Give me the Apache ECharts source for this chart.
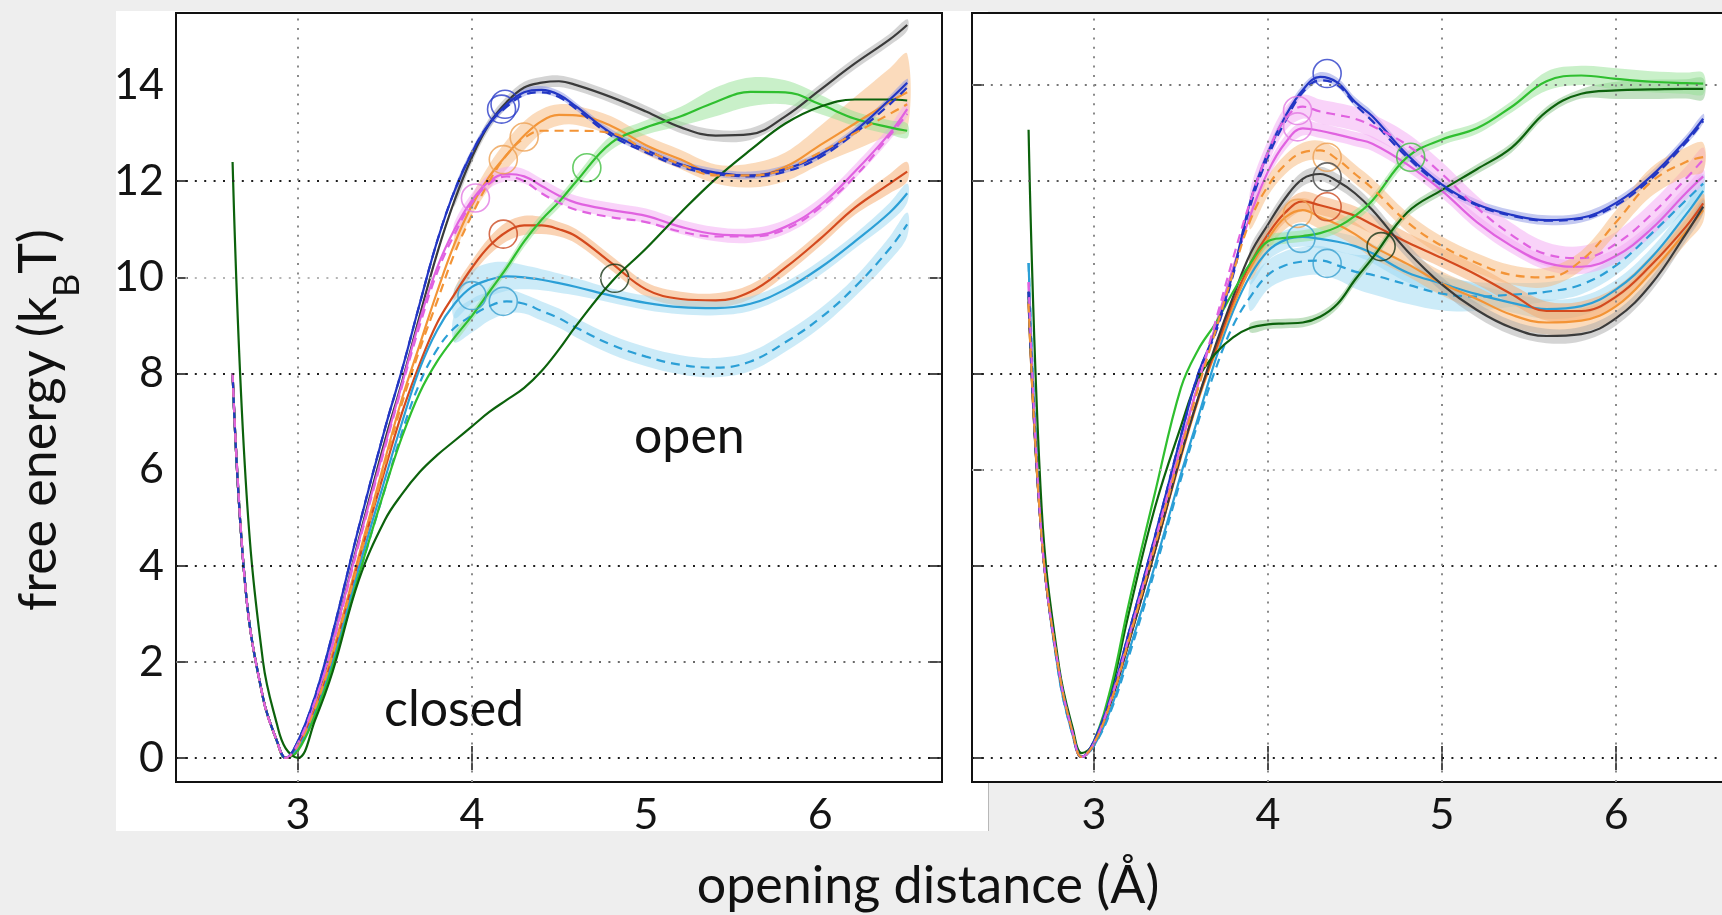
<!DOCTYPE html>
<html>
<head>
<meta charset="utf-8">
<title>free energy vs opening distance</title>
<script src="https://cdn.jsdelivr.net/npm/echarts@6.0.0/dist/echarts.min.js"></script>
<style>
  html, body { margin: 0; padding: 0; background: #eeeeee; }
  #chart { width: 1722px; height: 915px; }
</style>
</head>
<body>
<div id="chart"></div>
<script>
// ---- sampled opening distances (Å) shared by every profile ----
const distanceGrid = [2.625, 2.7, 2.8, 2.88, 2.93, 3.0, 3.1, 3.2, 3.35, 3.5, 3.6, 3.7, 3.8, 3.9, 4.0, 4.1, 4.2, 4.3, 4.4, 4.5, 4.6, 4.8, 5.0, 5.2, 5.4, 5.6, 5.8, 6.0, 6.2, 6.4, 6.5];

// ---- left panel free-energy profiles (kBT) ----
const leftBlue          = [8.0, 3.5, 1.25, 0.35, 0.0, 0.35, 1.3, 2.6, 4.8, 6.85, 8.1, 9.45, 10.75, 11.8, 12.6, 13.2, 13.6, 13.85, 13.9, 13.8, 13.55, 13.0, 12.65, 12.35, 12.18, 12.12, 12.25, 12.55, 13.05, 13.7, 14.05];
const leftBlueDashed    = [8.0, 3.5, 1.25, 0.35, 0.0, 0.35, 1.3, 2.6, 4.8, 6.85, 8.1, 9.45, 10.75, 11.8, 12.6, 13.2, 13.55, 13.8, 13.85, 13.75, 13.5, 12.95, 12.6, 12.3, 12.15, 12.1, 12.2, 12.5, 13.0, 13.6, 13.95];
const leftGray          = [8.0, 3.5, 1.25, 0.35, 0.0, 0.3, 1.15, 2.4, 4.55, 6.6, 7.85, 9.2, 10.5, 11.6, 12.5, 13.2, 13.65, 13.95, 14.05, 14.08, 14.0, 13.75, 13.45, 13.12, 12.95, 12.98, 13.35, 13.9, 14.45, 14.95, 15.25];
const leftOrange        = [8.0, 3.5, 1.25, 0.35, 0.0, 0.25, 1.05, 2.2, 4.2, 6.2, 7.5, 8.6, 9.7, 10.7, 11.5, 12.1, 12.55, 12.95, 13.25, 13.38, 13.37, 13.15, 12.75, 12.45, 12.15, 12.12, 12.3, 12.75, 13.2, 13.65, 13.85];
const leftOrangeDashed  = [8.0, 3.5, 1.25, 0.35, 0.0, 0.25, 1.05, 2.15, 4.1, 6.1, 7.4, 8.5, 9.5, 10.5, 11.3, 12.0, 12.55, 12.9, 13.05, 13.05, 13.05, 13.0, 12.65, 12.35, 12.12, 12.12, 12.25, 12.6, 13.0, 13.4, 13.6];
const leftMagenta       = [8.0, 3.5, 1.25, 0.35, 0.0, 0.3, 1.2, 2.4, 4.5, 6.5, 7.8, 9.1, 10.2, 11.0, 11.6, 12.0, 12.15, 12.1, 11.9, 11.7, 11.55, 11.4, 11.28, 11.05, 10.9, 10.87, 11.05, 11.5, 12.2, 13.0, 13.5];
const leftMagentaDashed = [8.0, 3.5, 1.25, 0.35, 0.0, 0.3, 1.2, 2.35, 4.45, 6.45, 7.75, 9.0, 10.1, 10.9, 11.55, 11.95, 12.1, 12.0, 11.75, 11.55, 11.4, 11.25, 11.15, 10.95, 10.85, 10.85, 11.0, 11.45, 12.1, 12.95, 13.4];
const leftRed           = [8.0, 3.5, 1.25, 0.35, 0.0, 0.25, 1.0, 2.1, 4.1, 6.0, 7.2, 8.2, 9.05, 9.65, 10.2, 10.65, 10.95, 11.08, 11.08, 11.0, 10.85, 10.3, 9.75, 9.55, 9.52, 9.7, 10.2, 10.8, 11.45, 11.95, 12.2];
const leftSky           = [8.0, 3.5, 1.25, 0.35, 0.0, 0.2, 0.95, 2.0, 3.95, 5.8, 7.0, 8.1, 8.9, 9.45, 9.8, 9.95, 10.02, 10.0, 9.95, 9.88, 9.8, 9.62, 9.47, 9.38, 9.36, 9.45, 9.75, 10.2, 10.75, 11.35, 11.75];
const leftSkyDashed     = [8.0, 3.5, 1.25, 0.35, 0.0, 0.2, 0.9, 1.9, 3.8, 5.6, 6.8, 7.8, 8.5, 8.95, 9.2, 9.4, 9.5, 9.45, 9.3, 9.15, 8.95, 8.6, 8.35, 8.18, 8.12, 8.25, 8.65, 9.15, 9.8, 10.6, 11.1];
const leftGreen         = [8.0, 3.5, 1.25, 0.35, 0.0, 0.15, 0.9, 1.9, 3.8, 5.6, 6.7, 7.6, 8.25, 8.75, 9.2, 9.7, 10.2, 10.75, 11.2, 11.57, 12.0, 12.8, 13.12, 13.35, 13.65, 13.86, 13.85, 13.6, 13.3, 13.12, 13.05];
const leftDarkGreen     = [12.4, 5.8, 2.0, 0.7, 0.2, 0.0, 0.8, 1.8, 3.7, 4.95, 5.5, 5.95, 6.3, 6.6, 6.9, 7.2, 7.45, 7.7, 8.05, 8.5, 9.0, 9.9, 10.6, 11.35, 12.05, 12.65, 13.2, 13.55, 13.7, 13.7, 13.68];

// ---- right panel free-energy profiles (kBT) ----
const rightBlue          = [9.7, 4.6, 1.8, 0.5, 0.02, 0.35, 1.3, 2.6, 4.6, 6.7, 8.0, 8.9, 10.1, 11.6, 12.6, 13.35, 13.9, 14.17, 14.05, 13.65, 13.35, 12.55, 11.93, 11.52, 11.3, 11.19, 11.24, 11.55, 12.1, 12.85, 13.3];
const rightBlueDashed    = [9.7, 4.6, 1.8, 0.5, 0.02, 0.35, 1.3, 2.6, 4.6, 6.7, 8.0, 8.85, 10.05, 11.5, 12.5, 13.25, 13.85, 14.1, 14.0, 13.6, 13.25, 12.5, 11.9, 11.5, 11.28, 11.18, 11.22, 11.5, 12.05, 12.8, 13.25];
const rightMagenta       = [9.9, 4.6, 1.8, 0.5, 0.02, 0.3, 1.25, 2.5, 4.5, 6.5, 7.8, 9.0, 10.2, 11.3, 12.2, 12.8, 13.1, 13.05, 12.97, 12.88, 12.78, 12.35, 11.8, 11.15, 10.65, 10.3, 10.22, 10.45, 11.0, 11.75, 12.1];
const rightMagentaDashed = [9.9, 4.6, 1.8, 0.5, 0.02, 0.3, 1.25, 2.5, 4.5, 6.5, 7.8, 9.1, 10.4, 11.6, 12.6, 13.3, 13.55, 13.45, 13.38, 13.3, 13.15, 12.75, 12.15, 11.45, 10.88, 10.48, 10.4, 10.7, 11.3, 12.05, 12.45];
const rightOrangeDashed  = [9.45, 4.6, 1.8, 0.5, 0.02, 0.3, 1.2, 2.45, 4.4, 6.4, 7.7, 8.9, 10.1, 11.2, 11.9, 12.35, 12.6, 12.64, 12.45, 12.15, 11.85, 11.15, 10.65, 10.3, 10.05, 10.0, 10.35, 11.15, 11.98, 12.4, 12.5];
const rightGray          = [9.5, 4.6, 1.8, 0.5, 0.02, 0.3, 1.2, 2.4, 4.3, 6.3, 7.5, 8.6, 9.6, 10.5, 11.1, 11.65, 12.05, 12.15, 12.0, 11.75, 11.4, 10.55, 9.85, 9.32, 8.95, 8.78, 8.82, 9.15, 9.85, 10.9, 11.47];
const rightRed           = [9.6, 4.6, 1.8, 0.5, 0.02, 0.3, 1.2, 2.4, 4.3, 6.3, 7.5, 8.5, 9.5, 10.3, 10.9, 11.35, 11.58, 11.5, 11.4, 11.28, 11.1, 10.73, 10.4, 10.05, 9.65, 9.3, 9.3, 9.6, 10.25, 11.05, 11.54];
const rightOrange        = [9.45, 4.6, 1.8, 0.5, 0.02, 0.3, 1.2, 2.4, 4.3, 6.25, 7.45, 8.45, 9.4, 10.2, 10.8, 11.25, 11.4, 11.25, 11.1, 10.9, 10.65, 10.28, 9.87, 9.55, 9.22, 9.06, 9.1, 9.4, 10.1, 10.95, 11.4];
const rightSky           = [10.3, 4.7, 1.7, 0.45, 0.02, 0.25, 1.05, 2.2, 4.0, 5.9, 7.1, 8.3, 9.3, 10.05, 10.55, 10.78, 10.84, 10.8, 10.74, 10.65, 10.5, 10.1, 9.87, 9.65, 9.47, 9.34, 9.4, 9.75, 10.4, 11.3, 11.8];
const rightSkyDashed     = [10.3, 4.7, 1.7, 0.45, 0.02, 0.25, 1.0, 2.1, 3.9, 5.8, 7.0, 8.1, 9.0, 9.6, 10.05, 10.25, 10.33, 10.35, 10.25, 10.12, 10.05, 9.85, 9.66, 9.6, 9.64, 9.7, 9.85, 10.25, 10.9, 11.6, 11.95];
const rightGreen         = [9.7, 4.6, 1.8, 0.5, 0.02, 0.35, 1.5, 3.2, 5.5, 7.7, 8.5, 9.05, 9.7, 10.3, 10.75, 10.82, 10.86, 10.92, 11.05, 11.28, 11.6, 12.5, 12.87, 13.1, 13.55, 14.08, 14.2, 14.13, 14.07, 14.04, 14.03];
const rightDarkGreen     = [13.07, 5.2, 1.9, 0.6, 0.1, 0.3, 1.4, 3.0, 5.2, 6.9, 7.9, 8.42, 8.75, 8.95, 9.02, 9.04, 9.06, 9.18, 9.45, 9.95, 10.4, 11.35, 11.82, 12.25, 12.7, 13.45, 13.82, 13.89, 13.91, 13.92, 13.92];

// ---- uncertainty half-widths (kBT), from distanceGrid[bandStart] onward ----
const bandStart = 13;
const leftBlueBand       = 0.08;
const leftGrayBand       = 0.12;
const leftMagentaBand    = 0.15;
const leftOrangeBand     = [0.15, 0.2, 0.25, 0.3, 0.3, 0.25, 0.22, 0.2, 0.2, 0.2, 0.2, 0.2, 0.25, 0.3, 0.4, 0.55, 0.7, 0.8];
const leftRedBand        = [0.12, 0.15, 0.18, 0.2, 0.2, 0.18, 0.15, 0.15, 0.15, 0.15, 0.15, 0.15, 0.15, 0.15, 0.15, 0.15, 0.2, 0.2];
const leftSkyBand        = [0.3, 0.35, 0.35, 0.3, 0.25, 0.22, 0.2, 0.18, 0.15, 0.15, 0.15, 0.15, 0.15, 0.15, 0.15, 0.15, 0.2, 0.2];
const leftSkyDashedBand  = [0.3, 0.35, 0.3, 0.25, 0.2, 0.2, 0.2, 0.2, 0.2, 0.2, 0.2, 0.2, 0.2, 0.2, 0.2, 0.2, 0.25, 0.25];
const leftGreenBand      = [0.1, 0.1, 0.1, 0.1, 0.12, 0.12, 0.12, 0.12, 0.15, 0.15, 0.2, 0.3, 0.3, 0.25, 0.2, 0.15, 0.15, 0.15];

const rightBlueBand          = 0.1;
const rightMagentaBand       = 0.15;
const rightMagentaDashedBand = 0.25;
const rightGrayBand          = 0.15;
const rightRedBand           = 0.2;
const rightOrangeBand        = 0.25;
const rightSkyBand           = 0.2;
const rightOrangeDashedBand  = [0.2, 0.2, 0.2, 0.2, 0.2, 0.2, 0.2, 0.2, 0.2, 0.2, 0.2, 0.2, 0.2, 0.2, 0.25, 0.3, 0.3, 0.3];
const rightSkyDashedBand     = [0.3, 0.3, 0.3, 0.3, 0.3, 0.3, 0.35, 0.4, 0.4, 0.35, 0.3, 0.25, 0.2, 0.2, 0.2, 0.2, 0.2, 0.2];
const rightGreenBand         = [0.12, 0.12, 0.12, 0.12, 0.12, 0.12, 0.12, 0.12, 0.12, 0.12, 0.12, 0.12, 0.2, 0.2, 0.22, 0.22, 0.22, 0.22];
const rightDarkGreenBand     = [0.1, 0.1, 0.1, 0.1, 0.1, 0.1, 0.1, 0.1, 0.1, 0.1, 0.1, 0.1, 0.1, 0.1, 0.18, 0.2, 0.2, 0.22];

// ---- barrier tops (open circles): [profile, distance, free energy] ----
const leftBarriers = [
  ['blue', 4.17, 13.5], ['blue', 4.19, 13.6], ['orange', 4.18, 12.45], ['orange', 4.3, 12.92],
  ['magenta', 4.02, 11.65], ['red', 4.18, 10.9], ['sky', 4.18, 9.5], ['sky', 4.0, 9.62],
  ['green', 4.66, 12.28], ['darkgreen', 4.82, 9.98]
];
const rightBarriers = [
  ['blue', 4.34, 14.24], ['magenta', 4.17, 13.47], ['magenta', 4.17, 13.13], ['orange', 4.34, 12.5],
  ['gray', 4.34, 12.09], ['red', 4.34, 11.47], ['orange', 4.17, 11.33], ['sky', 4.19, 10.81],
  ['sky', 4.34, 10.29], ['green', 4.82, 12.5], ['darkgreen', 4.65, 10.64]
];

// ---- axes: tick labels and the reference lines actually drawn in each panel ----
const xTickValues = [3, 4, 5, 6];
const yTickValues = [0, 2, 4, 6, 8, 10, 12, 14];
const leftGridX  = [3, 4];
const rightGridX = [3, 4, 5, 6];
const leftGridY  = [0, 2, 4, 8, 10, 12];
const rightGridY = [0, 4, 6, 8, 12, 14];
const leftGridYShade  = ['#1e1e1e', '#6a6a6a', '#1e1e1e', '#1e1e1e', '#b4b4b4', '#1e1e1e'];
const rightGridYShade = ['#1e1e1e', '#2a2a2a', '#b0b0b0', '#1e1e1e', '#555555', '#777777'];

// ---- colours ----
const palette = {
  blue:      { line: '#2236c4', band: '#8a94e4', ring: '#2a3cc8' },
  gray:      { line: '#3b3b3b', band: '#a9a9a9', ring: '#444444' },
  orange:    { line: '#f39436', band: '#f7b779', ring: '#eea052' },
  magenta:   { line: '#e062e0', band: '#f3a8f3', ring: '#e27ae2' },
  red:       { line: '#d44a1e', band: '#f5a86a', ring: '#cc4a20' },
  sky:       { line: '#2b9fd6', band: '#9ad7f2', ring: '#3aa0d0' },
  green:     { line: '#2fbf2f', band: '#94e294', ring: '#42c042' },
  darkgreen: { line: '#0c620c', band: '#86c486', ring: '#173417' }
};

// [profile colour, values, dashed?, band]
const leftCurves = [
  ['gray', leftGray, false, leftGrayBand],
  ['orange', leftOrange, false, leftOrangeBand],
  ['magenta', leftMagenta, false, leftMagentaBand],
  ['red', leftRed, false, leftRedBand],
  ['sky', leftSky, false, leftSkyBand],
  ['sky', leftSkyDashed, true, leftSkyDashedBand],
  ['green', leftGreen, false, leftGreenBand],
  ['darkgreen', leftDarkGreen, false, null],
  ['blue', leftBlue, false, leftBlueBand],
  ['blue', leftBlueDashed, true, null],
  ['orange', leftOrangeDashed, true, null],
  ['magenta', leftMagentaDashed, true, null]
];
const rightCurves = [
  ['sky', rightSkyDashed, true, rightSkyDashedBand],
  ['sky', rightSky, false, rightSkyBand],
  ['orange', rightOrange, false, rightOrangeBand],
  ['red', rightRed, false, rightRedBand],
  ['gray', rightGray, false, rightGrayBand],
  ['magenta', rightMagenta, false, rightMagentaBand],
  ['darkgreen', rightDarkGreen, false, rightDarkGreenBand],
  ['green', rightGreen, false, rightGreenBand],
  ['blue', rightBlue, false, rightBlueBand],
  ['blue', rightBlueDashed, true, null],
  ['magenta', rightMagentaDashed, true, rightMagentaDashedBand],
  ['orange', rightOrangeDashed, true, rightOrangeDashedBand]
];

const FONT = 'Lato, "Open Sans", sans-serif';

// shaded uncertainty band drawn as one polygon through the axis scales
function bandSeries(values, half, colorKey, axisIdx) {
  const pts = [];
  for (let i = bandStart; i < distanceGrid.length; i++) {
    const w = Array.isArray(half) ? half[i - bandStart] : half;
    pts.push([distanceGrid[i], values[i] - w, values[i] + w]);
  }
  return {
    type: 'custom', xAxisIndex: axisIdx, yAxisIndex: axisIdx, z: 2, silent: true,
    clip: true, animation: false,
    data: pts, encode: { x: 0, y: [1, 2] },
    renderItem(params, api) {
      if (params.dataIndex !== 0) return null;
      const upper = pts.map(p => api.coord([p[0], p[2]]));
      const lower = pts.map(p => api.coord([p[0], p[1]])).reverse();
      return {
        type: 'polygon',
        shape: { points: upper.concat(lower), smooth: 0.35 },
        style: { fill: palette[colorKey].band, opacity: 0.5 }
      };
    }
  };
}

function curveSeries(values, colorKey, dashed, axisIdx) {
  return {
    type: 'line', xAxisIndex: axisIdx, yAxisIndex: axisIdx, z: 3, silent: true,
    data: distanceGrid.map((x, i) => [x, values[i]]),
    showSymbol: false, smooth: 0.4, animation: false,
    lineStyle: { color: palette[colorKey].line, width: 2.2, type: dashed ? [9, 6] : 'solid' }
  };
}

function barrierSeries(list, axisIdx) {
  return {
    type: 'scatter', xAxisIndex: axisIdx, yAxisIndex: axisIdx, z: 4, silent: true,
    symbol: 'circle', symbolSize: 28, animation: false,
    data: list.map(b => ({
      value: [b[1], b[2]],
      itemStyle: { color: 'rgba(0,0,0,0)', borderColor: palette[b[0]].ring, borderWidth: 1.6 }
    }))
  };
}

function gridLineSeries(gx, gy, shades, axisIdx) {
  const dotted = [2, 7.4];
  const data = [];
  gy.forEach((v, i) => data.push({ yAxis: v, lineStyle: { color: shades[i], type: dotted, width: 2 } }));
  gx.forEach(v => data.push({ xAxis: v, lineStyle: { color: '#8a8a8a', type: dotted, width: 2 } }));
  return {
    type: 'line', xAxisIndex: axisIdx, yAxisIndex: axisIdx, z: 1, data: [], silent: true,
    markLine: { silent: true, symbol: ['none', 'none'], label: { show: false }, animation: false, data }
  };
}

function makeXAxis(gridIndex, position, ticks, withLabels) {
  return {
    type: 'value', gridIndex, position, min: 2.3, max: 6.7,
    axisLine: { show: false },
    axisTick: { show: true, inside: true, length: 12, customValues: ticks, lineStyle: { color: '#111', width: 1.5 } },
    axisLabel: withLabels
      ? { show: true, customValues: xTickValues, margin: 12, fontFamily: FONT, fontSize: 43, color: '#141414' }
      : { show: false },
    splitLine: { show: false }
  };
}
function makeYAxis(gridIndex, position, ticks, withLabels) {
  return {
    type: 'value', gridIndex, position, min: -0.5, max: 15.5,
    axisLine: { show: false },
    axisTick: { show: true, inside: true, length: 12, customValues: ticks, lineStyle: { color: '#111', width: 1.5 } },
    axisLabel: withLabels
      ? { show: true, customValues: yTickValues, margin: 12, fontFamily: FONT, fontSize: 43, color: '#141414' }
      : { show: false },
    splitLine: { show: false }
  };
}

const series = [];
series.push(gridLineSeries(leftGridX, leftGridY, leftGridYShade, 0));
series.push(gridLineSeries(rightGridX, rightGridY, rightGridYShade, 2));
leftCurves.forEach(c => { if (c[3] !== null) series.push(bandSeries(c[1], c[3], c[0], 0)); });
rightCurves.forEach(c => { if (c[3] !== null) series.push(bandSeries(c[1], c[3], c[0], 2)); });
leftCurves.forEach(c => series.push(curveSeries(c[1], c[0], c[2], 0)));
rightCurves.forEach(c => series.push(curveSeries(c[1], c[0], c[2], 2)));
series.push(barrierSeries(leftBarriers, 0));
series.push(barrierSeries(rightBarriers, 2));

// y-axis title with a subscript B, laid out from measured text widths
const measureCtx = document.createElement('canvas').getContext('2d');
function textWidth(t, font) { measureCtx.font = font; return measureCtx.measureText(t).width; }
const yTitleParts = ['free energy (k', 'B', 'T)'];
const yMainFont = '52px ' + FONT, ySubFont = '36px ' + FONT;
const w0 = textWidth(yTitleParts[0], yMainFont);
const w1 = textWidth(yTitleParts[1], ySubFont);
const w2 = textWidth(yTitleParts[2], yMainFont);
const yStart = -(w0 + w1 + w2) / 2;
function txt(text, x, y, font, align) {
  return {
    type: 'text', x, y, silent: true,
    style: { text, font, fill: '#111', textAlign: align || 'left', align: align || 'left',
             textVerticalAlign: 'middle', verticalAlign: 'middle' }
  };
}

const gridBase = { top: 13, width: 766, height: 769, show: true, borderColor: '#111', borderWidth: 2,
                   backgroundColor: '#ffffff', containLabel: false, outerBoundsMode: 'none' };

const chart = echarts.init(document.getElementById('chart'), null, { renderer: 'canvas' });
chart.setOption({
  backgroundColor: '#eeeeee',
  animation: false,
  grid: [
    Object.assign({ left: 176 }, gridBase),
    Object.assign({ left: 972 }, gridBase)
  ],
  xAxis: [
    makeXAxis(0, 'bottom', leftGridX, true),
    makeXAxis(0, 'top', leftGridX, false),
    makeXAxis(1, 'bottom', rightGridX, true),
    makeXAxis(1, 'top', rightGridX, false)
  ],
  yAxis: [
    makeYAxis(0, 'left', leftGridY, true),
    makeYAxis(0, 'right', leftGridY, false),
    makeYAxis(1, 'left', rightGridY, false),
    makeYAxis(1, 'right', rightGridY, false)
  ],
  graphic: [
    { type: 'rect', z: -10, silent: true, shape: { x: 116, y: 11, width: 872, height: 820 }, style: { fill: '#ffffff' } },
    { type: 'line', z: -5, silent: true, shape: { x1: 988.5, y1: 783, x2: 988.5, y2: 831 }, style: { stroke: '#b8b8b8', lineWidth: 1 } },
    {
      type: 'group', x: 39, y: 420, rotation: Math.PI / 2, silent: true,
      children: [
        txt(yTitleParts[0], yStart, 0, yMainFont),
        txt(yTitleParts[1], yStart + w0, 28, ySubFont),
        txt(yTitleParts[2], yStart + w0 + w1, 0, yMainFont)
      ]
    },
    txt('opening distance (Å)', 928, 886, '52px ' + FONT, 'center'),
    txt('closed', 384, 710, '50px ' + FONT, 'left'),
    txt('open', 634, 437, '50px ' + FONT, 'left')
  ],
  series
});
</script>
</body>
</html>
